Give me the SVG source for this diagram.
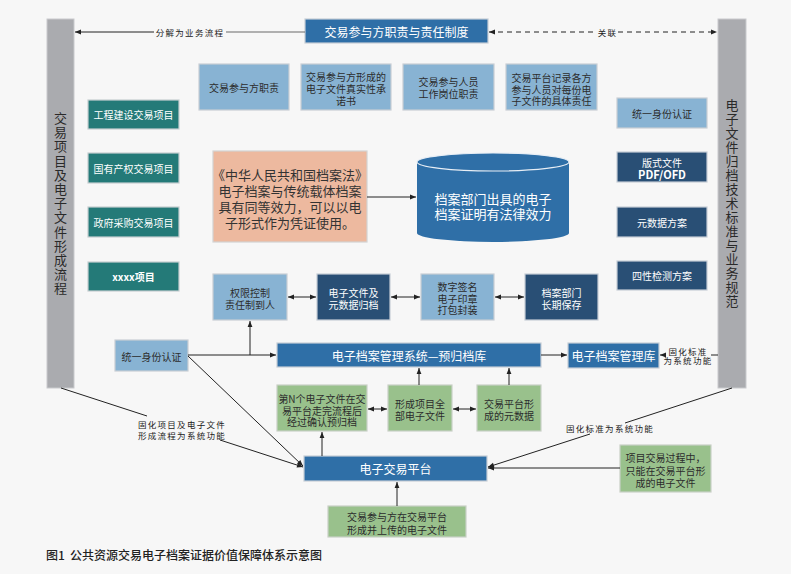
<svg xmlns="http://www.w3.org/2000/svg" width="791" height="574" viewBox="0 0 791 574">
<defs>
<marker id="a" viewBox="0 0 10 10" refX="10" refY="5" markerWidth="7" markerHeight="6" orient="auto-start-reverse" markerUnits="userSpaceOnUse">
<path d="M0,1 L10,5 L0,9 z" fill="#222"/>
</marker>
<style>
text{font-family:"Noto Sans CJK SC","Noto Sans",sans-serif;text-anchor:middle;dominant-baseline:central}
.bar{fill:#aaabaf;stroke:#c9cacd;stroke-width:1}
.vt{font-size:13px;fill:#2a2a2a;writing-mode:vertical-rl;text-anchor:start;letter-spacing:1.2px}
.mb{fill:#2f6fa7;stroke:#c6cdd6;stroke-width:1.2}
.lb{fill:#88b3d3;stroke:#c9ced4;stroke-width:1.2}
.tl{fill:#247a78;stroke:#c6cdd0;stroke-width:1.2}
.nv{fill:#294f75;stroke:#c6cdd6;stroke-width:1.2}
.gr{fill:#99c18c;stroke:#c9d0c6;stroke-width:1.2}
.pc{fill:#edb99f;stroke:#d3d3d3;stroke-width:1.2}
.w12{font-size:12px;fill:#fff}
.w10{font-size:10px;fill:#fff}
.d10{font-size:10px;fill:#2c2c2c}
.lab{font-size:8.5px;fill:#222;letter-spacing:1.3px}
.ln{stroke:#222;stroke-width:1;fill:none}
.arr{marker-end:url(#a)}
.dbl{marker-start:url(#a);marker-end:url(#a)}
</style>
</defs>
<rect x="0" y="0" width="791" height="574" fill="#f7f7f7"/>

<g id="bar-left">
<rect class="bar" x="47" y="19" width="27" height="369"/>
<text class="vt" x="60.5" y="111.5">交易项目及电子文件形成流程</text>
</g>

<g id="bar-right">
<rect class="bar" x="718" y="19" width="28" height="369"/>
<text class="vt" x="732" y="98.5" style="letter-spacing:1px">电子文件归档技术标准与业务规范</text>
</g>

<g id="top">
<rect class="mb" x="305" y="19" width="183" height="24"/>
<text class="w12" x="396.5" y="31">交易参与方职责与责任制度</text>
</g>

<g id="r1"><rect class="lb" x="199" y="64" width="90" height="46"/><text class="d10" x="244" y="87">交易参与方职责</text></g>
<g id="r2"><rect class="lb" x="301" y="64" width="90" height="46"/><text class="d10"><tspan x="346" y="76">交易参与方形成的</tspan><tspan x="346" y="88">电子文件真实性承</tspan><tspan x="346" y="99.5">诺书</tspan></text></g>
<g id="r3"><rect class="lb" x="403" y="64" width="91" height="46"/><text class="d10"><tspan x="448.5" y="81">交易参与人员</tspan><tspan x="448.5" y="93">工作岗位职责</tspan></text></g>
<g id="r4"><rect class="lb" x="506" y="64" width="91" height="46"/><text class="d10"><tspan x="551.5" y="77">交易平台记录各方</tspan><tspan x="551.5" y="88.5">参与人员对每份电</tspan><tspan x="551.5" y="100">子文件的具体责任</tspan></text></g>

<g id="p1"><rect class="tl" x="88" y="100" width="91" height="29"/><text class="w10" x="133.5" y="114.5">工程建设交易项目</text></g>
<g id="p2"><rect class="tl" x="88" y="153" width="91" height="30"/><text class="w10" x="133.5" y="168">国有产权交易项目</text></g>
<g id="p3"><rect class="tl" x="88" y="207" width="91" height="30"/><text class="w10" x="133.5" y="222">政府采购交易项目</text></g>
<g id="p4"><rect class="tl" x="88" y="262" width="91" height="29"/><text class="w10" x="133.5" y="276.5" font-weight="bold">xxxx项目</text></g>

<g id="s1"><rect class="lb" x="617" y="98" width="90" height="30"/><text class="d10" x="662" y="113">统一身份认证</text></g>
<g id="s2"><rect class="nv" x="617" y="152" width="90" height="30"/><text class="w10"><tspan x="662" y="161.5">版式文件</tspan><tspan x="662" y="173.5" font-weight="bold" font-size="11px">PDF/OFD</tspan></text></g>
<g id="s3"><rect class="nv" x="617" y="207" width="90" height="30"/><text class="w10" x="662" y="222">元数据方案</text></g>
<g id="s4"><rect class="nv" x="617" y="261" width="90" height="29"/><text class="w10" x="662" y="275.5">四性检测方案</text></g>

<g id="law">
<rect class="pc" x="213" y="151" width="154" height="91"/>
<text font-size="13px" fill="#333"><tspan x="290" y="174">《中华人民共和国档案法》</tspan><tspan x="290" y="190">电子档案与传统载体档案</tspan><tspan x="290" y="206">具有同等效力，可以以电</tspan><tspan x="290" y="222">子形式作为凭证使用。</tspan></text>
</g>

<g id="cyl">
<path d="M417,162 L417,233 A76,9 0 0 0 569,233 L569,162 Z" fill="#2f6fa7"/>
<ellipse cx="493" cy="162" rx="76" ry="9" fill="#2f6fa7" stroke="#e8eef5" stroke-width="1.2"/>
<text font-size="13px" fill="#fff"><tspan x="493" y="198">档案部门出具的电子</tspan><tspan x="493" y="213">档案证明有法律效力</tspan></text>
</g>

<g id="q1"><rect class="lb" x="213" y="274" width="74" height="46"/><text class="d10"><tspan x="250" y="292">权限控制</tspan><tspan x="250" y="303.5">责任制到人</tspan></text></g>
<g id="q2"><rect class="nv" x="317" y="274" width="73" height="46"/><text class="w10"><tspan x="353.5" y="292">电子文件及</tspan><tspan x="353.5" y="303.5">元数据归档</tspan></text></g>
<g id="q3"><rect class="lb" x="421" y="274" width="73" height="46"/><text class="d10"><tspan x="457.5" y="286">数字签名</tspan><tspan x="457.5" y="297.5">电子印章</tspan><tspan x="457.5" y="309">打包封装</tspan></text></g>
<g id="q4"><rect class="nv" x="525" y="274" width="73" height="46"/><text class="w10"><tspan x="561.5" y="292">档案部门</tspan><tspan x="561.5" y="303.5">长期保存</tspan></text></g>

<g id="auth"><rect class="lb" x="115" y="340" width="73" height="31"/><text class="d10" x="151.5" y="356">统一身份认证</text></g>
<g id="sys"><rect class="mb" x="277" y="343" width="264" height="24"/><text class="w12" x="409" y="355">电子档案管理系统—预归档库</text></g>
<g id="lib"><rect class="mb" x="568" y="343" width="91" height="25"/><text class="w12" x="613.5" y="355.5">电子档案管理库</text></g>

<g id="g1"><rect class="gr" x="277" y="385" width="90" height="46"/><text class="d10"><tspan x="322" y="398">第N个电子文件在交</tspan><tspan x="322" y="409.5">易平台走完流程后</tspan><tspan x="322" y="421">经过确认预归档</tspan></text></g>
<g id="g2"><rect class="gr" x="388" y="385" width="64" height="46"/><text class="d10"><tspan x="420" y="403">形成项目全</tspan><tspan x="420" y="415">部电子文件</tspan></text></g>
<g id="g3"><rect class="gr" x="477" y="385" width="64" height="46"/><text class="d10"><tspan x="509" y="403">交易平台形</tspan><tspan x="509" y="415">成的元数据</tspan></text></g>

<g id="plat"><rect class="mb" x="304" y="456" width="183" height="25"/><text class="w12" x="395.5" y="468.5">电子交易平台</text></g>
<g id="up"><rect class="gr" x="328" y="506" width="138" height="31"/><text class="d10" font-size="10.5px"><tspan x="397" y="516">交易参与方在交易平台</tspan><tspan x="397" y="529">形成并上传的电子文件</tspan></text></g>
<g id="only"><rect class="gr" x="620" y="445" width="91" height="47"/><text class="d10" font-size="9.6px"><tspan x="665.5" y="457">项目交易过程中，</tspan><tspan x="665.5" y="469.5">只能在交易平台形</tspan><tspan x="665.5" y="482">成的电子文件</tspan></text></g>

<g id="connectors">
<line x1="305" y1="32" x2="226" y2="32" stroke="#6a6a6a" stroke-width="1.2"/>
<line class="ln arr" x1="154" y1="32" x2="75" y2="32"/>
<text class="lab" x="190" y="32">分解为业务流程</text>
<line class="ln" x1="489" y1="32" x2="597" y2="32" stroke-dasharray="5,4" marker-start="url(#a)"/>
<line class="ln arr" x1="618" y1="32" x2="717" y2="32" stroke-dasharray="5,4"/>
<text class="lab" x="607.5" y="32">关联</text>
<line class="ln arr" x1="367" y1="197" x2="416" y2="197"/>
<line class="ln dbl" x1="288" y1="297" x2="316" y2="297"/>
<line class="ln dbl" x1="391" y1="297" x2="420" y2="297"/>
<line class="ln dbl" x1="495" y1="297" x2="524" y2="297"/>
<line class="ln arr" x1="188" y1="355" x2="276" y2="355"/>
<line class="ln arr" x1="250" y1="355" x2="250" y2="321"/>
<line class="ln arr" x1="541" y1="355" x2="567" y2="355"/>
<line class="ln" x1="718" y1="355" x2="711" y2="355"/>
<line class="ln arr" x1="666" y1="355" x2="660" y2="355"/>
<text class="lab" font-size="8px" letter-spacing="0.8px"><tspan x="688" y="351">固化标准</tspan><tspan x="688" y="360">为系统功能</tspan></text>
<line class="ln dbl" x1="368" y1="409" x2="387" y2="409"/>
<line class="ln dbl" x1="453" y1="409" x2="476" y2="409"/>
<line class="ln arr" x1="419" y1="385" x2="419" y2="368"/>
<line class="ln arr" x1="509" y1="385" x2="509" y2="368"/>
<line class="ln arr" x1="322" y1="456" x2="322" y2="432"/>
<line class="ln arr" x1="397" y1="506" x2="397" y2="482"/>
<line class="ln arr" x1="620" y1="468" x2="488" y2="468"/>
<line class="ln arr" x1="188" y1="356" x2="303" y2="466"/>
<line class="ln" x1="61" y1="388" x2="147" y2="416"/>
<line class="ln arr" x1="220" y1="440" x2="303" y2="467"/>
<text class="lab"><tspan x="182" y="424">固化项目及电子文件</tspan><tspan x="182" y="434.5">形成流程为系统功能</tspan></text>
<line class="ln" x1="732" y1="388" x2="625" y2="423"/>
<line class="ln arr" x1="590" y1="434" x2="488" y2="467"/>
<text class="lab" x="610" y="428">固化标准为系统功能</text>
</g>

<text x="46" y="554" font-size="12px" fill="#222" style="text-anchor:start" font-weight="500">图1</text>
<text x="70" y="554" font-size="12px" fill="#222" style="text-anchor:start" font-weight="500">公共资源交易电子档案证据价值保障体系示意图</text>
</svg>
